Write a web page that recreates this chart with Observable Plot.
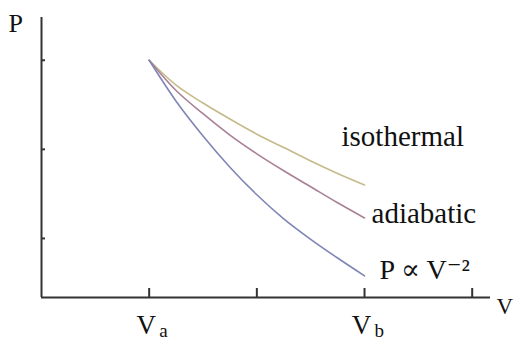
<!DOCTYPE html>
<html>
<head>
<meta charset="utf-8">
<script src="https://cdn.jsdelivr.net/npm/d3@7"></script>
<script src="https://cdn.jsdelivr.net/npm/@observablehq/plot@0.6"></script>
<style>
  html, body { margin: 0; padding: 0; background: #fff; }
  #chart { width: 515px; height: 362px; }
</style>
</head>
<body>
<div id="chart"></div>
<script>
// Volume samples (in units of the V-axis ticks) and pressure along each process
const volume     = [1, 1.25, 1.5, 1.75, 2, 2.25, 2.5, 2.75, 3];
const isothermal = [3, 2.72, 2.52, 2.34, 2.17, 2.02, 1.87, 1.73, 1.60];
const adiabatic  = [3, 2.66, 2.40, 2.16, 1.95, 1.76, 1.58, 1.40, 1.23];
const inverseSq  = [3, 2.54, 2.15, 1.80, 1.49, 1.22, 0.99, 0.78, 0.58];

const seriesNames = ["isothermal", "adiabatic", "P ∝ V⁻²"];
const seriesColors = ["#c6ba8a", "#a98197", "#7f85b6"];

// Axis ticks and the two labelled volumes
const xTicks = [1, 2, 3, 4];
const yTicks = [1, 2, 3];
const volumeMarks = [1, 3];
const volumeBase = ["V", "V"];
const volumeSub = ["a", "b"];

const xDomain = [0, 4.17];
const yDomain = [0.337, 3.48];

const curves = [isothermal, adiabatic, inverseSq].map((p, i) =>
  volume.map((v, j) => ({ series: seriesNames[i], V: v, P: p[j] }))
);
const ends = curves.map(c => c[c.length - 1]);

const serif = "'Liberation Serif', 'DejaVu Serif', serif";

const chart = Plot.plot({
  width: 515,
  height: 362,
  marginLeft: 41,
  marginRight: 25,
  marginTop: 17,
  marginBottom: 65,
  style: { fontFamily: serif, background: "#fff", color: "#111" },
  x: { domain: xDomain, axis: null },
  y: { domain: yDomain, axis: null },
  marks: [
    // axis lines
    Plot.ruleX([xDomain[0]], { stroke: "#333", strokeWidth: 2 }),
    Plot.ruleY([yDomain[0]], { stroke: "#333", strokeWidth: 2 }),
    // short inward ticks
    Plot.axisY({ ticks: yTicks, anchor: "left", tickSize: -4, tickFormat: () => "", stroke: "#333", strokeWidth: 2, label: null }),
    Plot.axisX({ ticks: xTicks, anchor: "bottom", tickSize: -9, tickFormat: () => "", stroke: "#333", strokeWidth: 2, label: null }),
    // process curves
    ...curves.map((c, i) =>
      Plot.line(c, { x: "V", y: "P", stroke: seriesColors[i], strokeWidth: 1.6, curve: "monotone-x" })
    ),
    // curve labels
    Plot.text([ends[0]], { x: "V", y: "P", text: "series", dx: -23, dy: -48, textAnchor: "start", fontSize: 29, fill: "#111" }),
    Plot.text([ends[1]], { x: "V", y: "P", text: "series", dx: 7, dy: -4, textAnchor: "start", fontSize: 29, fill: "#111" }),
    Plot.text([ends[2]], { x: "V", y: "P", text: "series", dx: 15, dy: -6, textAnchor: "start", fontSize: 28, fill: "#111" }),
    // V_a and V_b tick labels
    Plot.text(volumeMarks, { x: d => d, y: yDomain[0], text: (d, i) => volumeBase[i], dx: -3, dy: 28, textAnchor: "middle", fontSize: 27, fill: "#111" }),
    Plot.text(volumeMarks, { x: d => d, y: yDomain[0], text: (d, i) => volumeSub[i], dx: 10, dy: 33, textAnchor: "start", fontSize: 19, fill: "#111" }),
    // axis names
    Plot.text(["V"], { frameAnchor: "bottom-right", text: d => d, dx: 6, dy: 16, textAnchor: "start", fontSize: 23, fill: "#111" }),
    Plot.text(["P"], { frameAnchor: "top-left", text: d => d, dx: -33, dy: -4, textAnchor: "start", fontSize: 26, fill: "#111" })
  ]
});
chart.style.overflow = "visible";
document.getElementById("chart").appendChild(chart);
</script>
</body>
</html>
